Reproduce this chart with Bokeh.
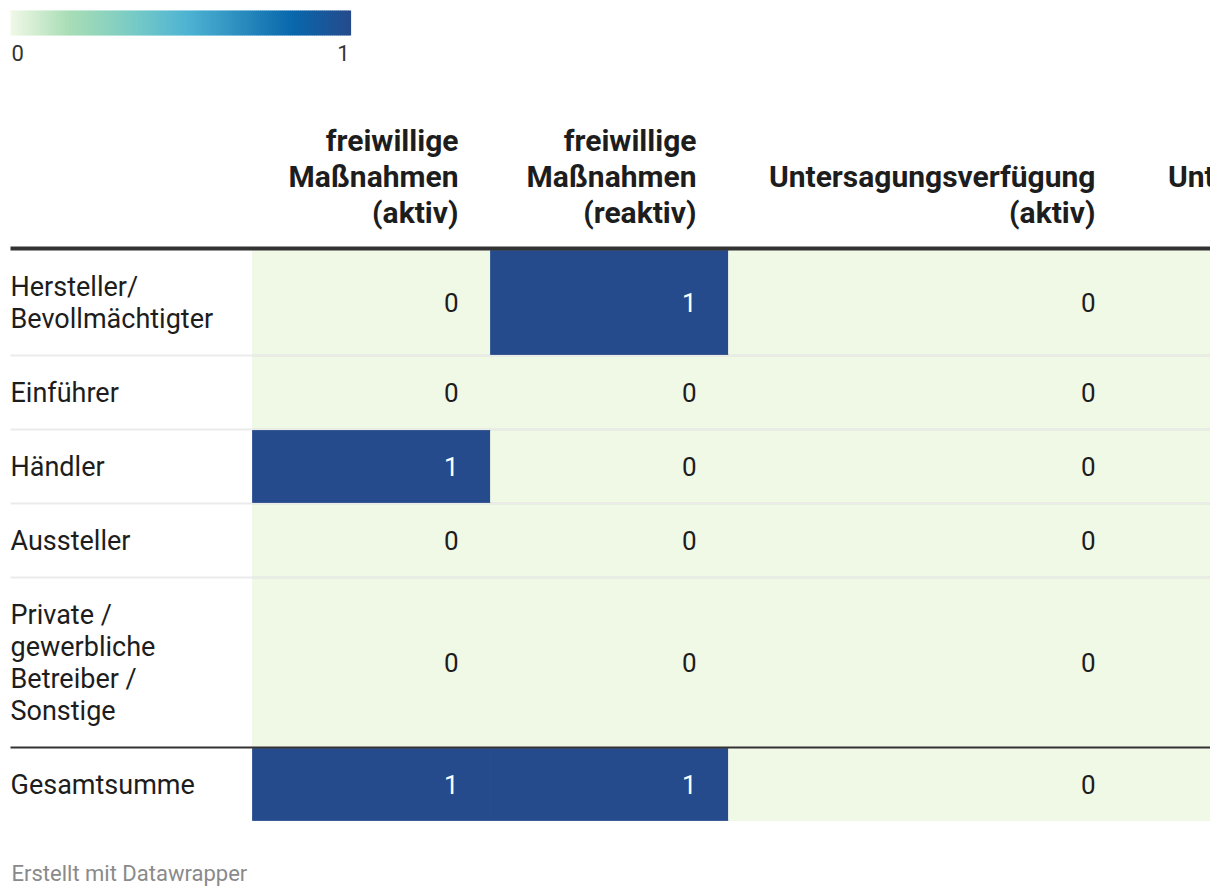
import numpy as np
from bokeh.plotting import figure
from bokeh.models import Range1d, ColumnDataSource, LinearColorMapper
from bokeh.transform import transform
from bokeh.core.properties import value
from bokeh.embed import file_html
from bokeh.resources import INLINE

# ---------------- data ----------------
row_labels = [
    "Hersteller/\nBevollmächtigter",
    "Einführer",
    "Händler",
    "Aussteller",
    "Private /\ngewerbliche\nBetreiber /\nSonstige",
    "Gesamtsumme",
]
col_headers = [
    "freiwillige\nMaßnahmen\n(aktiv)",
    "freiwillige\nMaßnahmen\n(reaktiv)",
    "Untersagungsverfügung\n(aktiv)",
    "Untersagungsverfügung\n(reaktiv)",
]
freiwillig_aktiv = [0, 0, 1, 0, 0, 1]
freiwillig_reaktiv = [1, 0, 0, 0, 0, 1]
untersagung_aktiv = [0, 0, 0, 0, 0, 0]
untersagung_reaktiv = [0, 0, 0, 0, 0, 0]
legend_ticks = [0, 1]
footer_text = "Erstellt mit Datawrapper"

columns = [freiwillig_aktiv, freiwillig_reaktiv, untersagung_aktiv, untersagung_reaktiv]

# ---------------- styling / layout ----------------
FONT = value("Roboto")
TEXT_C = "#1d1d1d"
LABEL_FS = "27px"
BODY_FS = "26px"
HEAD_FS = "30px"
SMALL_FS = "22px"
stops = [0.0, 0.17, 0.35, 0.52, 0.68, 0.83, 1.0]
stop_cols = ["#f0f8e6", "#a8ddb5", "#7bccc4", "#4eb3d3", "#2b8cbe", "#0868ac", "#254b8c"]


def hex2rgb(h):
    h = h.lstrip("#")
    return [int(h[i:i + 2], 16) for i in (0, 2, 4)]


rgb = np.array([hex2rgb(c) for c in stop_cols], dtype=float)
ts = np.linspace(0, 1, 256)
palette = []
for t in ts:
    r, g, b = (np.interp(t, stops, rgb[:, k]) for k in range(3))
    palette.append("#%02x%02x%02x" % (int(round(r)), int(round(g)), int(round(b))))

mapper = LinearColorMapper(palette=palette, low=0, high=1)

LEFT = 10
LABEL_W = 242
COL_W = [238, 238, 399, 399]
TOP = 250
LINE_H = 32
ROW_PAD = 40
SEP = 2
PAD_R = 32

W, H = 1210, 890
p = figure(width=W, height=H, output_backend="svg", toolbar_location=None,
           x_range=Range1d(0, W), y_range=Range1d(H, 0),
           min_border=0, outline_line_color=None, background_fill_color="white",
           border_fill_color="white")
p.axis.visible = False
p.grid.visible = False

# column edges
col_left = []
x = LEFT + LABEL_W
for w in COL_W:
    col_left.append(x)
    x += w
col_right = [l + w for l, w in zip(col_left, COL_W)]

# row edges
row_top, row_bot = [], []
y = TOP
for lab in row_labels:
    n = len(lab.split("\n"))
    h = LINE_H * n + ROW_PAD
    row_top.append(y)
    row_bot.append(y + h)
    y += h + SEP

# cells
cl, cr, ct, cb, cv = [], [], [], [], []
tx, ty, tt, tc = [], [], [], []
for ci, col in enumerate(columns):
    for ri, v in enumerate(col):
        cl.append(col_left[ci]); cr.append(col_right[ci])
        ct.append(row_top[ri]); cb.append(row_bot[ri]); cv.append(v)
        if col_right[ci] - PAD_R <= W:
            tx.append(col_right[ci] - PAD_R)
            ty.append((row_top[ri] + row_bot[ri]) / 2)
            tt.append(str(v))
            tc.append("white" if v >= 0.5 else TEXT_C)

cells = ColumnDataSource(dict(left=cl, right=cr, top=ct, bottom=cb, v=cv))
p.quad(left="left", right="right", top="top", bottom="bottom", source=cells,
       fill_color=transform("v", mapper), line_color=transform("v", mapper),
       line_width=0.8)

vals = ColumnDataSource(dict(x=tx, y=ty, text=tt, color=tc))
p.text(x="x", y="y", text="text", source=vals, text_color="color",
       text_align="right", text_baseline="middle", text_font=FONT,
       text_font_size=BODY_FS)

# row separators
far_right = col_right[-1]
for ri in range(len(row_labels) - 1):
    ys = row_bot[ri] + SEP / 2
    if ri == len(row_labels) - 2:
        p.segment(x0=LEFT, y0=ys, x1=far_right, y1=ys, line_color="#333333", line_width=2)
    else:
        p.segment(x0=LEFT, y0=ys, x1=far_right, y1=ys, line_color="black",
                  line_alpha=0.08, line_width=2)

# header bottom line
p.segment(x0=LEFT, y0=TOP - 2, x1=far_right, y1=TOP - 2, line_color="#333333", line_width=4)

# row labels
lx, ly, lt = [], [], []
for ri, lab in enumerate(row_labels):
    lines = lab.split("\n")
    n = len(lines)
    c = (row_top[ri] + row_bot[ri]) / 2
    for i, ln in enumerate(lines):
        lx.append(LEFT)
        ly.append(c + (i - (n - 1) / 2) * LINE_H)
        lt.append(ln)
p.text(x=lx, y=ly, text=lt, text_color=TEXT_C, text_align="left",
       text_baseline="middle", text_font=FONT, text_font_size=LABEL_FS)

# headers
HEAD_LAST = 212
HEAD_LH = 36
hx, hy, ht = [], [], []
for ci, hd in enumerate(col_headers):
    lines = hd.split("\n")
    n = len(lines)
    for i, ln in enumerate(lines):
        hx.append(col_right[ci] - PAD_R)
        hy.append(HEAD_LAST - (n - 1 - i) * HEAD_LH)
        ht.append(ln)
p.text(x=hx, y=hy, text=ht, text_color=TEXT_C, text_align="right",
       text_baseline="middle", text_font=FONT, text_font_size=HEAD_FS,
       text_font_style="bold")

# colour legend
LG_X0, LG_X1, LG_Y0, LG_Y1 = 10, 350, 10, 35
nseg = 170
edges = np.linspace(LG_X0, LG_X1, nseg + 1)
seg_cols = [palette[int(round(k / (nseg - 1) * 255))] for k in range(nseg)]
p.quad(left=edges[:-1], right=edges[1:] + 0.6, top=[LG_Y0] * nseg, bottom=[LG_Y1] * nseg,
       fill_color=seg_cols, line_color=None)
p.text(x=[LG_X0 + 1, LG_X1 - 1], y=[52, 52], text=[str(t) for t in legend_ticks],
       text_align=["left", "right"], text_baseline="middle", text_color="#333333",
       text_font=FONT, text_font_size=SMALL_FS)

# footer
p.text(x=[LEFT + 1], y=[873], text=[footer_text], text_align="left",
       text_baseline="middle", text_color="#8a8a8a", text_font=FONT,
       text_font_size=SMALL_FS)

open("out.html", "w").write(file_html(p, INLINE))
